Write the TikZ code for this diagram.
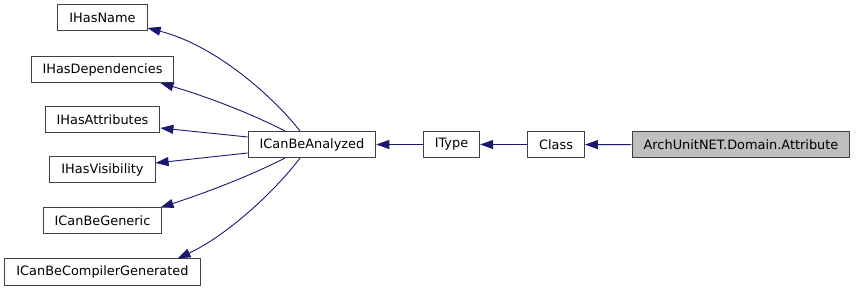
\documentclass[tikz,border=0pt]{standalone}
\usepackage{fontspec}
\setmainfont{DejaVu Sans}
\usetikzlibrary{arrows.meta}
\definecolor{edgeblue}{HTML}{191970}
\definecolor{boxline}{HTML}{404040}
\definecolor{boxgray}{HTML}{BFBFBF}

\begin{document}
\begin{tikzpicture}[x=1pt, y=-1pt]
    % Define styles
    \tikzset{
        cls/.style={
            draw=boxline,
            line width=1pt,
            fill=white,
            inner xsep=11.5pt,
            inner ysep=0pt,
            minimum height=26pt,
            font=\fontsize{12.9}{16}\selectfont
        },
        current/.style={
            cls,
            fill=boxgray
        },
        inherit/.style={
            edgeblue,
            line width=0.9pt,
            -{Triangle[length=13pt, width=9pt]}
        }
    }

    \useasboundingbox (0,0) rectangle (857,291);

    % Interfaces on the left
    \foreach \name/\txt/\y in {hasname/IHasName/18, hasdeps/IHasDependencies/69.5,
            hasattrs/IHasAttributes/120, hasvis/IHasVisibility/170,
            generic/ICanBeGeneric/221, compgen/ICanBeCompilerGenerated/272}
        \node[cls] (\name) at (102.5,\y) {\txt};

    % Main chain
    \node[cls] (analyzed) at (312,144.5) {ICanBeAnalyzed};
    \node[cls] (itype) at (451.5,144.5) {IType};
    \node[cls] (class) at (556,144.5) {Class};
    \node[current] (attribute) at (741,145) {ArchUnitNET.Domain.Attribute};

    % Inheritance edges
    \draw[inherit] (attribute) -- (class);
    \draw[inherit] (class) -- (itype);
    \draw[inherit] (itype) -- (analyzed);

    \draw[inherit] ([xshift=-12pt]analyzed.north)
        .. controls (276,100) and (218,46) .. ([yshift=-10pt]hasname.east);
    \draw[inherit] ([xshift=-27pt]analyzed.north)
        .. controls (250,113) and (205,96) .. ([xshift=58pt]hasdeps.south);
    \draw[inherit] ([yshift=7.5pt]analyzed.west) -- ([yshift=-8pt]hasattrs.east);
    \draw[inherit] ([yshift=-8.5pt]analyzed.west) -- ([yshift=7pt]hasvis.east);
    \draw[inherit] ([xshift=-27pt]analyzed.south)
        .. controls (250,176) and (205,193) .. ([xshift=58pt]generic.north);
    \draw[inherit] ([xshift=-12pt]analyzed.south)
        .. controls (276,190) and (228,235) .. ([xshift=75pt]compgen.north);

\end{tikzpicture}
\end{document}
